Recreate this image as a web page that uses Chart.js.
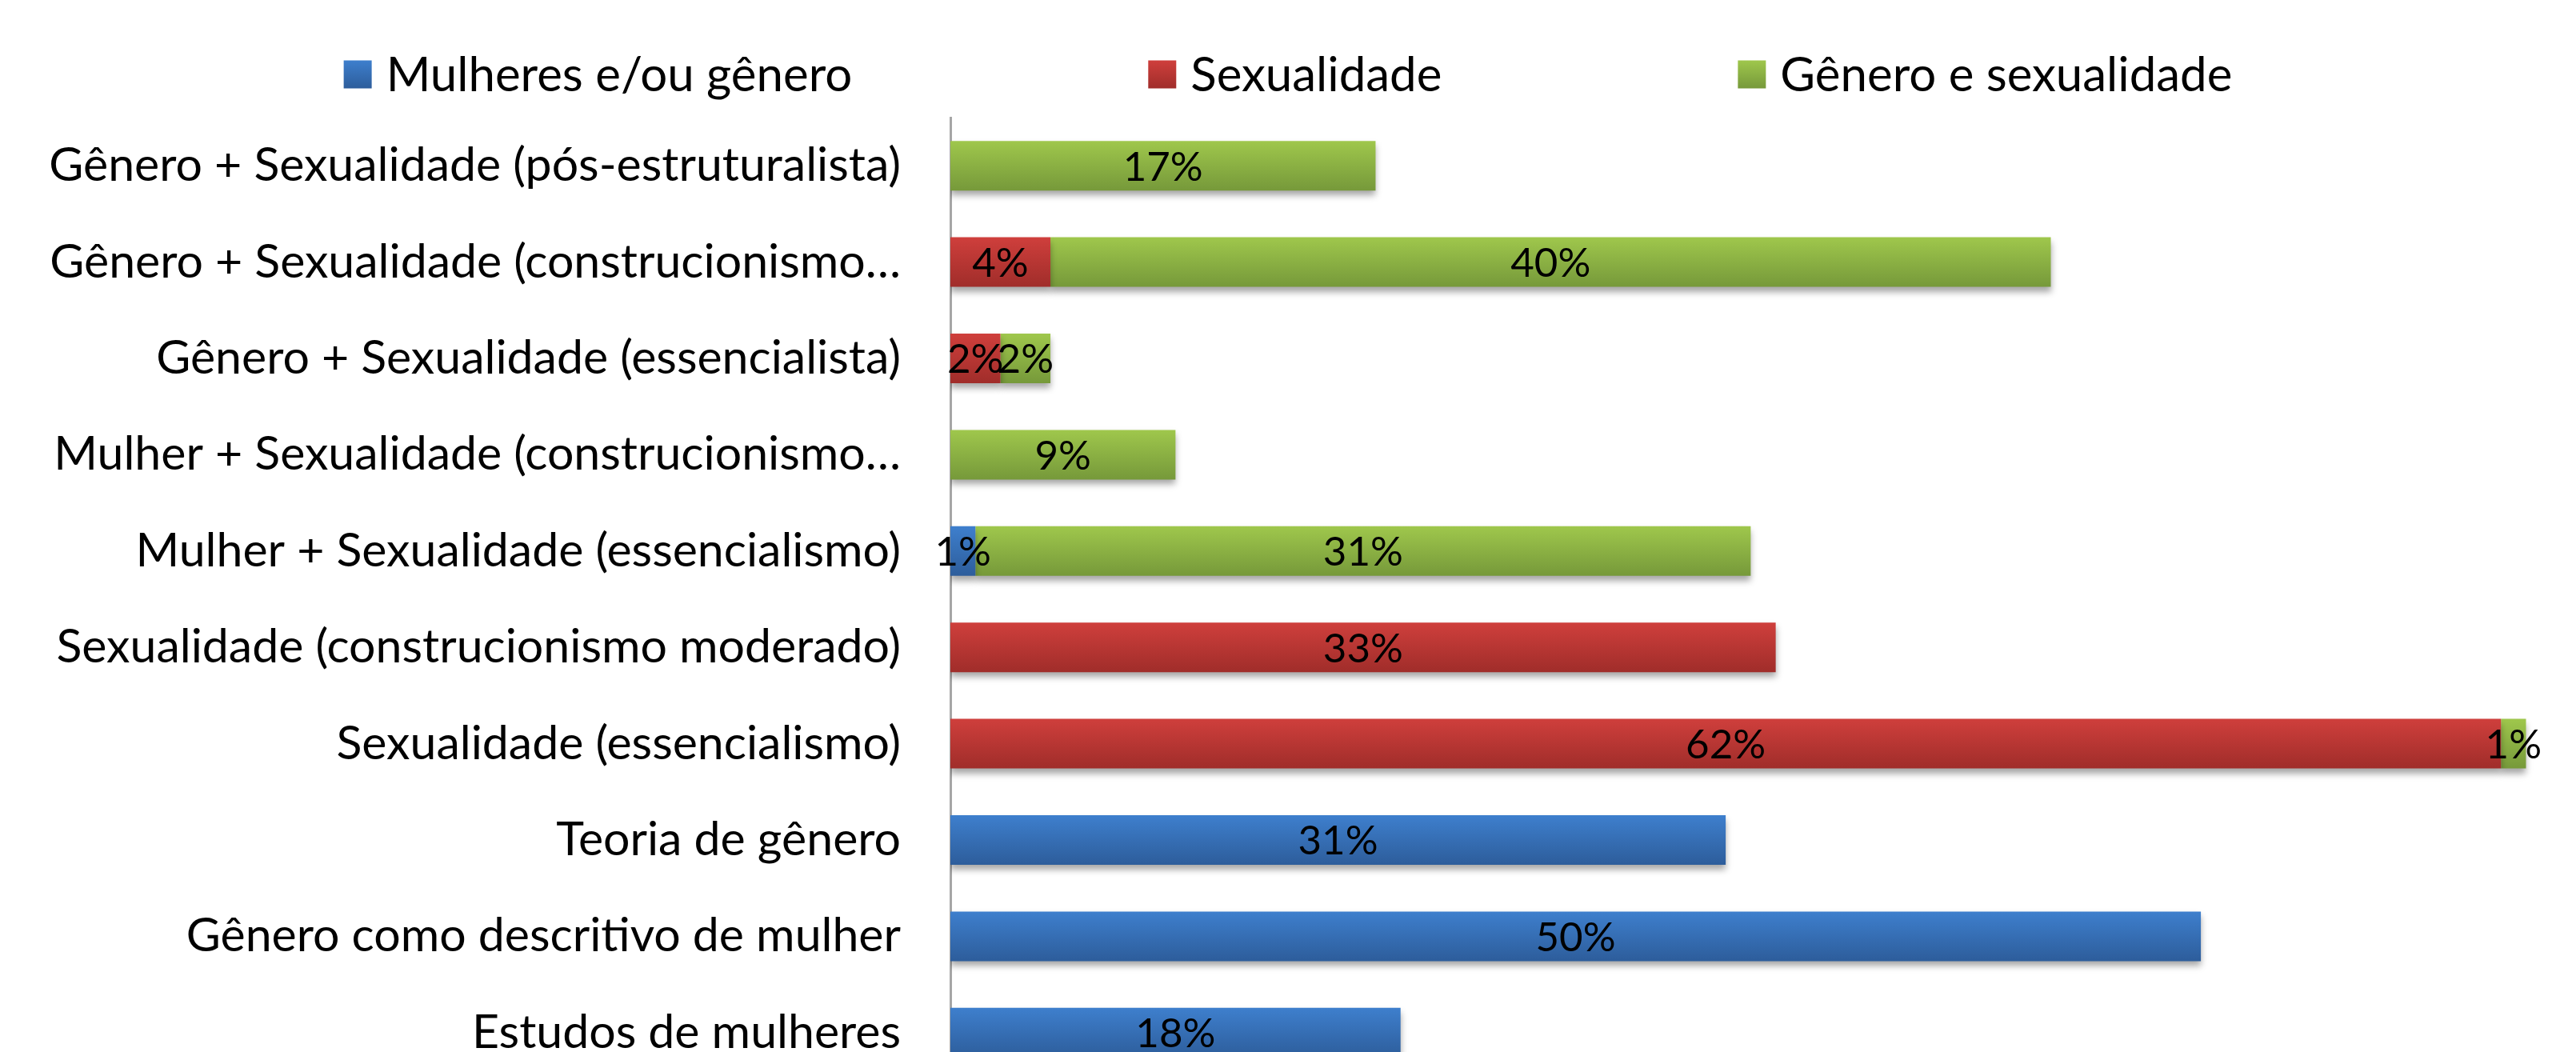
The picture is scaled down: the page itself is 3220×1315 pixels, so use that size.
<!DOCTYPE html>
<html>
<head>
<meta charset="utf-8">
<script src="https://cdn.jsdelivr.net/npm/chart.js@4.4.1/dist/chart.umd.min.js"></script>
<style>
  html, body { margin: 0; padding: 0; background: #fff; overflow: hidden; }
  canvas { display: block; }
</style>
</head>
<body>
<canvas id="chart" width="3220" height="1351"></canvas>
<script>
// Categorias (de cima para baixo)
const categorias = [
    'Gênero + Sexualidade (pós-estruturalista)',
    'Gênero + Sexualidade (construcionismo…',
    'Gênero + Sexualidade (essencialista)',
    'Mulher + Sexualidade (construcionismo…',
    'Mulher + Sexualidade (essencialismo)',
    'Sexualidade (construcionismo moderado)',
    'Sexualidade (essencialismo)',
    'Teoria de gênero',
    'Gênero como descritivo de mulher',
    'Estudos de mulheres'
];

// Séries (%)
const mulheresGenero = [null, null, null, null, 1, null, null, 31, 50, 18];
const sexualidade = [null, 4, 2, null, null, 33, 62, null, null, null];
const generoSexualidade = [17, 40, 2, 9, 31, null, 1, null, null, null];

const FONTE = 'Lato, "Open Sans", sans-serif';
const barFrac = 0.515;

// Gradiente vertical por barra (claro em cima, escuro embaixo)
function preenchimento(topo, base) {
    return function(c) {
        const y = c.chart.scales.y;
        if (!y || !y.height) return topo;
        const yc = y.getPixelForValue(c.dataIndex);
        const half = (y.height / categorias.length) * barFrac / 2;
        const g = c.chart.ctx.createLinearGradient(0, yc - half, 0, yc + half);
        g.addColorStop(0, topo);
        g.addColorStop(1, base);
        return g;
    };
}

const cores = [
    ['#3e7fcd', '#2d5d9b'],
    ['#cf3f3c', '#a02d2a'],
    ['#9fc74c', '#76993a']
];

// Sombra das barras
const sombra = {
    id: 'sombra',
    beforeDatasetDraw(chart) {
        const ctx = chart.ctx;
        ctx.save();
        ctx.shadowColor = 'rgba(0,0,0,0.35)';
        ctx.shadowBlur = 8;
        ctx.shadowOffsetY = 6;
    },
    afterDatasetDraw(chart) {
        chart.ctx.restore();
    }
};

// Rótulos de valor no centro das barras
const rotulos = {
    id: 'rotulos',
    afterDatasetsDraw(chart) {
        const ctx = chart.ctx;
        ctx.save();
        ctx.font = '51px ' + FONTE;
        ctx.fillStyle = '#000';
        ctx.textAlign = 'center';
        ctx.textBaseline = 'middle';
        chart.data.datasets.forEach(function(ds, i) {
            const meta = chart.getDatasetMeta(i);
            meta.data.forEach(function(el, j) {
                const v = ds.data[j];
                if (v === null || v === undefined) return;
                ctx.fillText(v + '%', (el.x + el.base) / 2, el.y + 2);
            });
        });
        ctx.restore();
    }
};

// Legenda desenhada à mão (itens bem espaçados, como no Excel)
const legenda = {
    id: 'legenda',
    afterDraw(chart) {
        const ctx = chart.ctx;
        const box = 35, gapTxt = 18, gapItem = 370, yc = 93;
        ctx.save();
        ctx.font = '60px ' + FONTE;
        ctx.textBaseline = 'middle';
        const itens = chart.data.datasets.map(function(ds, i) {
            return { txt: ds.label, w: ctx.measureText(ds.label).width, cor: cores[i] };
        });
        let total = 0;
        itens.forEach(function(it) { total += box + gapTxt + it.w; });
        total += gapItem * (itens.length - 1);
        let x = (chart.width - total) / 2;
        itens.forEach(function(it) {
            const g = ctx.createLinearGradient(0, yc - box / 2, 0, yc + box / 2);
            g.addColorStop(0, it.cor[0]);
            g.addColorStop(1, it.cor[1]);
            ctx.fillStyle = g;
            ctx.fillRect(x, yc - box / 2, box, box);
            ctx.fillStyle = '#000';
            ctx.textAlign = 'left';
            ctx.fillText(it.txt, x + box + gapTxt, yc + 2);
            x += box + gapTxt + it.w + gapItem;
        });
        ctx.restore();
    }
};

const ctx = document.getElementById('chart');
new Chart(ctx, {
    type: 'bar',
    data: {
        labels: categorias,
        datasets: [
            { label: 'Mulheres e/ou gênero', data: mulheresGenero, backgroundColor: preenchimento(cores[0][0], cores[0][1]) },
            { label: 'Sexualidade', data: sexualidade, backgroundColor: preenchimento(cores[1][0], cores[1][1]) },
            { label: 'Gênero e sexualidade', data: generoSexualidade, backgroundColor: preenchimento(cores[2][0], cores[2][1]) }
        ]
    },
    options: {
        indexAxis: 'y',
        responsive: false,
        animation: false,
        layout: { padding: { top: 147, right: 0, bottom: 0, left: 0 } },
        datasets: {
            bar: { categoryPercentage: 1, barPercentage: barFrac, borderWidth: 0 }
        },
        plugins: {
            legend: { display: false },
            tooltip: { enabled: false }
        },
        scales: {
            x: {
                stacked: true,
                min: 0,
                max: 65,
                display: false
            },
            y: {
                stacked: true,
                grid: { display: false, drawTicks: false },
                border: { display: true, color: '#a6a6a6', width: 3 },
                ticks: {
                    color: '#000',
                    padding: 62,
                    autoSkip: false,
                    font: { family: FONTE, size: 59 }
                },
                afterFit: function(scale) {
                    scale.width = 1188;
                    // sem folga extra em cima/embaixo: o eixo vai até a borda
                    scale.paddingTop = 0;
                    scale.paddingBottom = 0;
                }
            }
        }
    },
    plugins: [sombra, rotulos, legenda]
});
</script>
</body>
</html>
